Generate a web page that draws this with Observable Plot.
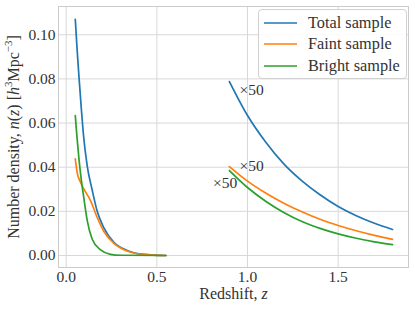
<!DOCTYPE html>
<html>
<head>
<meta charset="utf-8">
<script src="https://cdn.jsdelivr.net/npm/d3@7"></script>
<script src="https://cdn.jsdelivr.net/npm/@observablehq/plot@0.6"></script>
<style>
  html, body { margin: 0; padding: 0; background: white; }
  #wrap { position: relative; width: 415px; height: 309px; font-family: "Liberation Serif", serif; }
  #legend { position: absolute; left: 258px; top: 9px; width: 149px; height: 70px; box-sizing: border-box;
            border: 1px solid #d0d0d0; border-radius: 4px; background: rgba(255,255,255,0.85); padding-top: 2px; }
  .row { display: flex; align-items: center; height: 21.5px; font-size: 16.3px; color: #333; }
  .row svg { margin-left: 5px; margin-right: 11px; }
</style>
</head>
<body>
<div id="wrap"><div id="legend"></div></div>
<script>
// Series names and colours
const seriesNames = ["Total sample", "Faint sample", "Bright sample"];
const seriesColors = ["#1f77b4", "#ff7f0e", "#2ca02c"];

// Low-redshift branch (z, n(z))
const lowZ = {
  "Total sample":  [[0.05,0.107],[0.06,0.0935],[0.07,0.0815],[0.082,0.0680],[0.094,0.0556],[0.116,0.0405],[0.143,0.0298],[0.171,0.0200],[0.207,0.0126],[0.263,0.0060],[0.336,0.0023],[0.43,0.0005],[0.55,0.0]],
  "Faint sample":  [[0.05,0.0438],[0.06,0.0378],[0.079,0.0332],[0.097,0.0302],[0.134,0.0249],[0.171,0.0172],[0.207,0.0110],[0.263,0.0055],[0.336,0.0020],[0.43,0.0004],[0.55,0.0]],
  "Bright sample": [[0.05,0.0634],[0.057,0.0560],[0.07,0.0440],[0.083,0.0345],[0.097,0.0262],[0.116,0.0158],[0.143,0.0075],[0.19,0.0025],[0.244,0.0005],[0.30,0.0001],[0.55,0.0]]
};

// High-redshift branch, as plotted (already multiplied by 50)
const highZ = {
  "Total sample":  [[0.9,0.0788],[1.0,0.0634],[1.1,0.0514],[1.2,0.0415],[1.3,0.0338],[1.4,0.0275],[1.5,0.0222],[1.6,0.0180],[1.7,0.0146],[1.8,0.0118]],
  "Faint sample":  [[0.9,0.0403],[1.0,0.0337],[1.1,0.0283],[1.2,0.0237],[1.3,0.0198],[1.4,0.0164],[1.5,0.0136],[1.6,0.0112],[1.7,0.0091],[1.8,0.0073]],
  "Bright sample": [[0.9,0.0385],[1.0,0.0308],[1.1,0.0246],[1.2,0.0195],[1.3,0.0154],[1.4,0.0123],[1.5,0.0098],[1.6,0.0078],[1.7,0.0062],[1.8,0.0049]]
};

// "×50" annotations (data coordinates)
const notes = [
  {z: 0.956, n: 0.0725, text: "×50"},
  {z: 0.956, n: 0.0385, text: "×50"},
  {z: 0.81,  n: 0.0304, text: "×50"}
];

const xTicks = [0.0, 0.5, 1.0, 1.5];
const yTicks = [0.00, 0.02, 0.04, 0.06, 0.08, 0.10];

const toRows = (obj, branch) => seriesNames.flatMap(s => obj[s].map(([z, n]) => ({series: s, branch, z, n})));
const rows = [...toRows(lowZ, "low"), ...toRows(highZ, "high")];

const chart = Plot.plot({
  width: 415, height: 309,
  marginLeft: 58, marginRight: 7, marginTop: 6, marginBottom: 42,
  style: {fontFamily: "Liberation Serif, serif", fontSize: "15.5px", background: "white", color: "#333"},
  x: {domain: [-0.0425, 1.888], ticks: xTicks, tickFormat: d3.format(".1f"), tickSize: 0, tickPadding: 3,
      label: "Redshift, z", labelAnchor: "center", labelOffset: 31},
  y: {domain: [-0.00544, 0.1128], ticks: yTicks, tickFormat: d3.format(".2f"), tickSize: 0, tickPadding: 3,
      label: "Number density", labelAnchor: "center", labelOffset: 51},
  color: {domain: seriesNames, range: seriesColors},
  marks: [
    Plot.gridX(xTicks, {stroke: "#d8d8d8", strokeOpacity: 1, strokeWidth: 1}),
    Plot.gridY(yTicks, {stroke: "#d8d8d8", strokeOpacity: 1, strokeWidth: 1}),
    Plot.frame({stroke: "#cccccc", strokeWidth: 1}),
    Plot.line(rows, {x: "z", y: "n", z: d => d.series + d.branch, stroke: "series", strokeWidth: 1.7, curve: "monotone-x"}),
    Plot.text(notes, {x: "z", y: "n", text: "text", textAnchor: "start", lineAnchor: "bottom", fontSize: 15.5, fill: "#333"})
  ]
});

// Rich-text axis labels
function richLabel(sel, parts, size) {
  const t = chart.querySelector(sel);
  if (!t) return;
  t.textContent = "";
  if (size) t.setAttribute("font-size", size);
  for (const p of parts) {
    const ts = document.createElementNS("http://www.w3.org/2000/svg", "tspan");
    ts.textContent = p.t;
    if (p.i) ts.setAttribute("font-style", "italic");
    if (p.sup) { ts.setAttribute("font-size", "11px"); ts.setAttribute("dy", "-7px"); }
    if (p.down) ts.setAttribute("dy", p.down);
    t.appendChild(ts);
  }
}
richLabel('g[aria-label="y-axis label"] text', [
  {t: "Number density, "}, {t: "n", i: true}, {t: "("}, {t: "z", i: true}, {t: ") ["},
  {t: "h", i: true}, {t: "3", sup: true}, {t: "Mpc", down: "7px"}, {t: "−3", sup: true}, {t: "]", down: "7px"}
], "16px");
richLabel('g[aria-label="x-axis label"] text', [{t: "Redshift, "}, {t: "z", i: true}], "16px");

document.getElementById("wrap").prepend(chart);

// Legend
const legend = document.getElementById("legend");
seriesNames.forEach((s, i) => {
  const row = document.createElement("div");
  row.className = "row";
  row.innerHTML = `<svg width="33" height="4"><line x1="0" x2="33" y1="2" y2="2" stroke="${seriesColors[i]}" stroke-width="1.7"/></svg><span>${s}</span>`;
  legend.appendChild(row);
});
</script>
</body>
</html>
